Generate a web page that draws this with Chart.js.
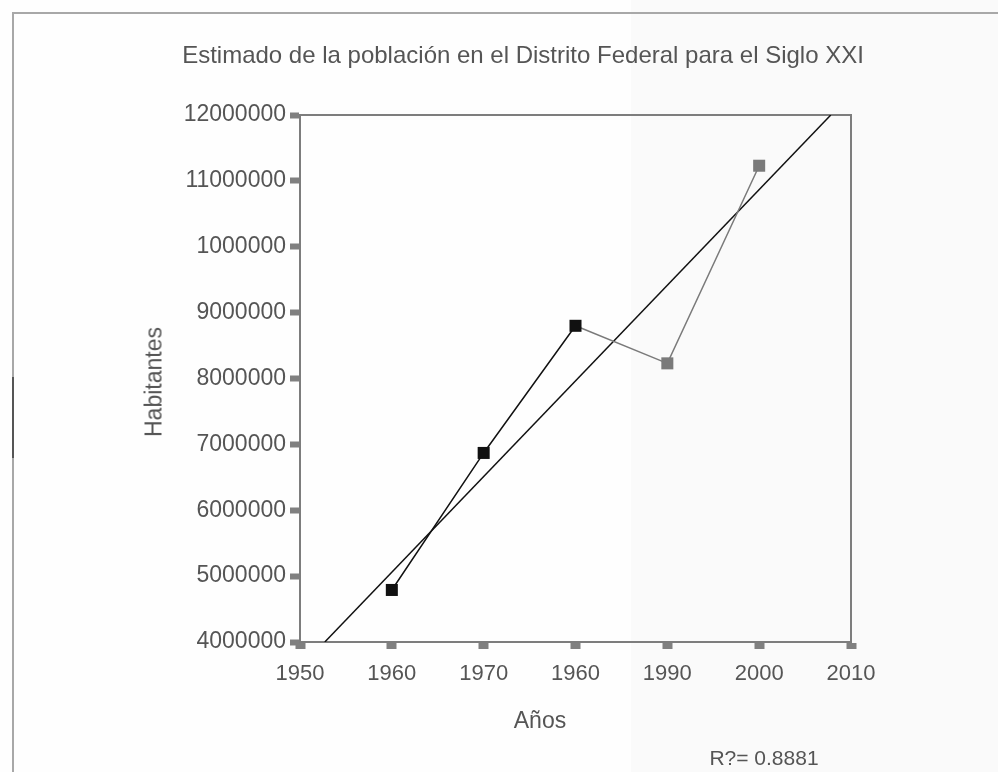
<!DOCTYPE html>
<html>
<head>
<meta charset="utf-8">
<script src="https://cdn.jsdelivr.net/npm/chart.js@4.4.0/dist/chart.umd.min.js"></script>
<style>
  html, body { margin: 0; padding: 0; }
  body {
    width: 998px; height: 772px; overflow: hidden; position: relative;
    background: linear-gradient(to right, #fefefe 0px, #fefefe 631px, #fafafa 631px, #fafafa 998px);
    font-family: "Liberation Sans", Arial, sans-serif;
  }
  #frame { position: absolute; left: 12px; top: 12px; width: 1100px; height: 900px;
    border-left: 2px solid #a8a8a8; border-top: 2px solid #a8a8a8; }
  #frameDark { position: absolute; left: 12px; top: 377px; width: 2px; height: 81px; background: #555; }
  #wrap { position: absolute; left: 0; top: 0; width: 998px; height: 772px; }
  .lbl { position: absolute; color: #555; white-space: nowrap; transform: translate(-50%, -50%); }
  #title { left: 523px; top: 55px; font-size: 24px; }
  #xtitle { left: 540px; top: 720px; font-size: 23px; }
  #ytitle { left: 154px; top: 382px; font-size: 23px; transform: translate(-50%, -50%) rotate(-90deg); }
  #r2 { left: 764px; top: 758px; font-size: 21px; }
</style>
</head>
<body>
<div id="frame"></div>
<div id="frameDark"></div>
<div id="wrap"><canvas id="c" width="998" height="772"></canvas></div>
<div class="lbl" id="title">Estimado de la población en el Distrito Federal para el Siglo XXI</div>
<div class="lbl" id="xtitle">Años</div>
<div class="lbl" id="ytitle">Habitantes</div>
<div class="lbl" id="r2">R?= 0.8881</div>
<script>
const years = [1960, 1970, 1980, 1990, 2000];
const habitantes = [4790000, 6870000, 8800000, 8230000, 11230000];
const trendYears = [1952.7, 2007.8];
const trendValues = [4000000, 12000000];
const xTickLabels = ['1950', '1960', '1970', '1960', '1990', '2000', '2010'];
const yTickLabels = ['4000000', '5000000', '6000000', '7000000', '8000000', '9000000', '1000000', '11000000', '12000000'];

const BLACK = '#111111';
const GRAY = '#7a7a7a';
const pointColors = years.map((y, i) => i <= 2 ? BLACK : GRAY);

const borderPlugin = {
  id: 'plotBorder',
  beforeDatasetsDraw(chart) {
    const a = chart.chartArea, ctx = chart.ctx;
    ctx.save();
    ctx.strokeStyle = '#7d7d7d';
    ctx.lineWidth = 2;
    ctx.strokeRect(a.left, a.top, a.right - a.left, a.bottom - a.top);
    ctx.restore();
  }
};

new Chart(document.getElementById('c'), {
  type: 'line',
  data: {
    datasets: [
      {
        data: trendYears.map((x, i) => ({ x: x, y: trendValues[i] })),
        borderColor: BLACK,
        borderWidth: 1.5,
        pointRadius: 0,
        fill: false,
        order: 2
      },
      {
        data: years.map((x, i) => ({ x: x, y: habitantes[i] })),
        borderColor: BLACK,
        borderWidth: 1.5,
        segment: { borderColor: c => c.p0DataIndex >= 2 ? GRAY : BLACK },
        pointStyle: 'rect',
        pointRadius: 8.5,
        pointBackgroundColor: pointColors,
        pointBorderColor: pointColors,
        pointBorderWidth: 0,
        fill: false,
        order: 1
      }
    ]
  },
  options: {
    responsive: false,
    animation: false,
    layout: { padding: { left: 180, right: 147, top: 115, bottom: 80 } },
    plugins: { legend: { display: false }, tooltip: { enabled: false }, title: { display: false } },
    scales: {
      x: {
        type: 'linear', min: 1950, max: 2010,
        afterFit: s => { s.height = 50; },
        border: { display: true, color: '#7d7d7d', width: 2 },
        grid: { drawOnChartArea: false, drawTicks: true, tickLength: 7, tickWidth: 10, tickColor: '#808080' },
        ticks: {
          stepSize: 10, padding: 12, color: '#555',
          font: { family: '"Liberation Sans", Arial, sans-serif', size: 22 },
          maxRotation: 0,
          callback: (v, i) => xTickLabels[i]
        }
      },
      y: {
        type: 'linear', min: 4000000, max: 12000000,
        afterFit: s => { s.width = 120; },
        border: { display: true, color: '#7d7d7d', width: 2 },
        grid: { drawOnChartArea: false, drawTicks: true, tickLength: 10, tickWidth: 6, tickColor: '#808080' },
        ticks: {
          stepSize: 1000000, padding: 4, color: '#555',
          font: { family: '"Liberation Sans", Arial, sans-serif', size: 23 },
          callback: (v, i) => yTickLabels[i]
        }
      }
    }
  },
  plugins: [borderPlugin]
});
</script>
</body>
</html>
